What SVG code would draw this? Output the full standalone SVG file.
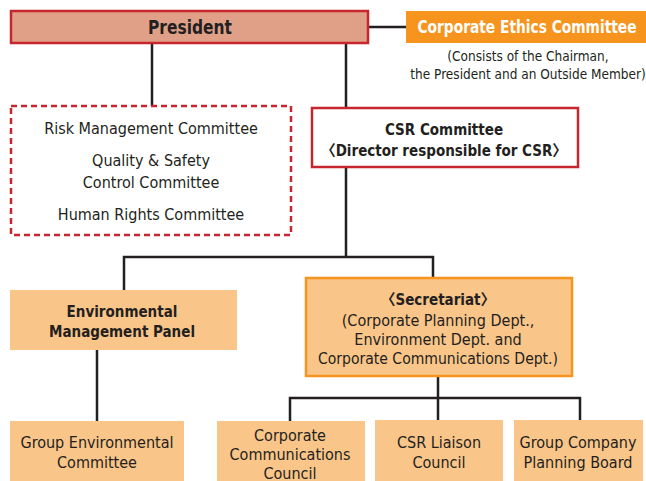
<svg xmlns="http://www.w3.org/2000/svg" width="646" height="481" viewBox="0 0 646 481">
<style>
text{font-family:"DejaVu Sans Condensed","Liberation Sans","Noto Sans CJK JP",sans-serif;fill:#231f20;text-anchor:middle}
.b{font-weight:bold}
.n{font-size:16px}
.bn{font-size:15px}
.s{font-size:13.5px}
.conn{stroke:#231f20;stroke-width:2.5;fill:none}
.lo{fill:#fac589}
</style>
<rect width="646" height="481" fill="#fff"/>
<g id="connectors">
<line class="conn" x1="368" y1="27" x2="406" y2="27"/>
<line class="conn" x1="152" y1="43" x2="152" y2="106"/>
<line class="conn" x1="346" y1="43" x2="346" y2="108"/>
<polyline class="conn" points="124,290 124,257 433,257 433,278"/>
<line class="conn" x1="346" y1="168" x2="346" y2="257"/>
<line class="conn" x1="97" y1="350" x2="97" y2="421"/>
<line class="conn" x1="438" y1="376" x2="438" y2="420"/>
<polyline class="conn" points="290,421 290,398 580,398 580,420"/>
</g>
<g id="president">
<rect x="11" y="11" width="357" height="32" fill="#e0a088" stroke="#c8262e" stroke-width="2.5"/>
<text x="190" y="34" class="b" font-size="19" textLength="84" lengthAdjust="spacingAndGlyphs">President</text>
</g>
<g id="ethics">
<rect x="406" y="11" width="240" height="32" fill="#f7941d"/>
<text x="527" y="33" class="b" font-size="18" textLength="219" lengthAdjust="spacingAndGlyphs" style="fill:#fff">Corporate Ethics Committee</text>
<text x="528" y="61" class="s">(Consists of the Chairman,</text>
<text x="528" y="79" class="s">the President and an Outside Member)</text>
</g>
<g id="committees">
<rect x="11" y="106" width="280" height="129" fill="#fff" stroke="#c8262e" stroke-width="2.5" stroke-dasharray="6,4"/>
<text x="151" y="134" class="n">Risk Management Committee</text>
<text x="151" y="166" class="n">Quality &amp; Safety</text>
<text x="151" y="188" class="n">Control Committee</text>
<text x="151" y="220" class="n">Human Rights Committee</text>
</g>
<g id="csr">
<rect x="312" y="108" width="266" height="59" fill="#fff" stroke="#c8262e" stroke-width="2.5"/>
<text x="444" y="135" class="b bn">CSR Committee</text>
<text x="444" y="156" class="b bn">〈Director responsible for CSR〉</text>
</g>
<g id="envpanel">
<rect x="10" y="290" width="227" height="60" class="lo"/>
<text x="122" y="317" class="b bn">Environmental</text>
<text x="122" y="337" class="b bn">Management Panel</text>
</g>
<g id="secretariat">
<rect x="306" y="278" width="266" height="98" class="lo" stroke="#f7941d" stroke-width="2.5"/>
<text x="438" y="305" class="b bn">〈Secretariat〉</text>
<text x="438" y="326" class="n">(Corporate Planning Dept.,</text>
<text x="438" y="345" class="n">Environment Dept. and</text>
<text x="438" y="364" class="n" textLength="240" lengthAdjust="spacingAndGlyphs">Corporate Communications Dept.)</text>
</g>
<g id="groupenv">
<rect x="10" y="421" width="174" height="60" class="lo"/>
<text x="97" y="448" class="n">Group Environmental</text>
<text x="97" y="468" class="n">Committee</text>
</g>
<g id="ccc">
<rect x="217" y="421" width="148" height="60" class="lo"/>
<text x="290" y="441" class="n">Corporate</text>
<text x="290" y="460" class="n">Communications</text>
<text x="290" y="479" class="n">Council</text>
</g>
<g id="liaison">
<rect x="375" y="420" width="128" height="61" class="lo"/>
<text x="439" y="448" class="n">CSR Liaison</text>
<text x="439" y="468" class="n">Council</text>
</g>
<g id="planning">
<rect x="514" y="420" width="129" height="61" class="lo"/>
<text x="578" y="448" class="n">Group Company</text>
<text x="578" y="468" class="n">Planning Board</text>
</g>
</svg>
